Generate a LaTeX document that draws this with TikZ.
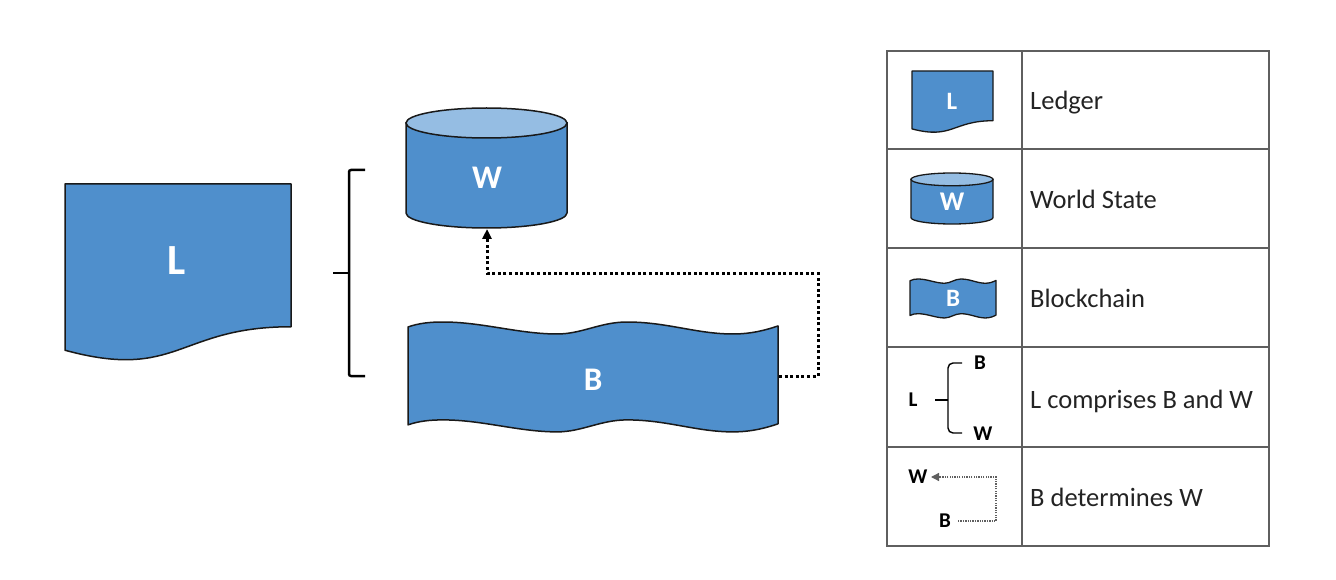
\documentclass[tikz,border=0pt]{standalone}
\usepackage{fontspec}
\setmainfont{Carlito}
\usetikzlibrary{arrows.meta}
\definecolor{shapeblue}{RGB}{79,143,204}
\definecolor{lightblue}{RGB}{149,189,227}
\definecolor{gridgray}{RGB}{95,95,95}
\definecolor{txt}{RGB}{35,35,35}
\definecolor{edge}{RGB}{25,25,25}

\newcommand{\docshape}[1]{%
  \draw[#1] (0,0) -- (1,0) -- (1,0.802) .. controls (0.5,0.802) and (0.5,1.107) .. (0,0.934) -- cycle;}
\newcommand{\cylshape}[1]{%
  \draw[#1, fill=shapeblue] (0,0.125) -- (0,0.875) .. controls (0,0.944) and (0.224,1) .. (0.5,1)
     .. controls (0.776,1) and (1,0.944) .. (1,0.875) -- (1,0.125) -- cycle;
  \draw[#1, fill=lightblue] (0,0.125) .. controls (0,0.056) and (0.224,0) .. (0.5,0)
     .. controls (0.776,0) and (1,0.056) .. (1,0.125)
     .. controls (1,0.194) and (0.776,0.25) .. (0.5,0.25)
     .. controls (0.224,0.25) and (0,0.194) .. (0,0.125) -- cycle;}
\newcommand{\tapeshape}[1]{%
  \draw[#1] (0,0.045) .. controls (0.03,0.01) and (0.06,0) .. (0.095,0)
     .. controls (0.2,0) and (0.3,0.109) .. (0.403,0.109)
     .. controls (0.47,0.109) and (0.52,0) .. (0.592,0)
     .. controls (0.7,0) and (0.78,0.109) .. (0.878,0.109)
     .. controls (0.93,0.109) and (0.97,0.07) .. (1,0.036)
     -- (1,0.926)
     .. controls (0.97,0.96) and (0.93,0.999) .. (0.878,0.999)
     .. controls (0.78,0.999) and (0.7,0.89) .. (0.592,0.89)
     .. controls (0.52,0.89) and (0.47,0.999) .. (0.403,0.999)
     .. controls (0.3,0.999) and (0.2,0.89) .. (0.095,0.89)
     .. controls (0.06,0.89) and (0.03,0.9) .. (0,0.935) -- cycle;}

\begin{document}
\begin{tikzpicture}[x=1pt,y=-1pt,
  bigshape/.style={draw=edge, fill=shapeblue, line width=1.5pt, line join=round},
  smallshape/.style={draw=edge, fill=shapeblue, line width=1.3pt, line join=round},
  lbl/.style={text=white, inner sep=0pt, font=\bfseries},
  leg/.style={text=txt, inner sep=0pt, anchor=base west, font=\fontsize{26.5}{26.5}\selectfont},
  mini/.style={text=black, inner sep=0pt, font=\bfseries\fontsize{21}{21}\selectfont},
  grid/.style={draw=gridgray, line width=2pt},
  bigdot/.style={line width=3pt, dash pattern=on 3pt off 2.6pt},
  smalldot/.style={line width=1.3pt, dash pattern=on 1.3pt off 1.1pt, draw=gridgray}]
\useasboundingbox (0,0) rectangle (1336,580);

% ---- main ledger
\begin{scope}[shift={(65,184)}, xscale=226, yscale=178]
  \docshape{bigshape}
\end{scope}
\node[lbl, font=\bfseries\fontsize{43}{43}\selectfont] (L) at (177,261) {L};

% ---- world state cylinder
\begin{scope}[shift={(406,108)}, xscale=161, yscale=120]
  \cylshape{draw=edge, line width=1.5pt}
\end{scope}
\node[lbl, font=\bfseries\fontsize{33}{33}\selectfont] (W) at (487,178) {W};
\coordinate (Wbot) at (487,229);

% ---- blockchain tape
\begin{scope}[shift={(408,322)}, xscale=370, yscale=110]
  \tapeshape{bigshape}
\end{scope}
\node[lbl, font=\bfseries\fontsize{33}{33}\selectfont] (B) at (593,380) {B};
\coordinate (Bout) at (779,376);

% ---- brace
\draw[line width=2.5pt, rounded corners=2pt] (365,170) -- (349,170) -- (349,376) -- (365,376);
\draw[line width=2.5pt] (333,273) -- (349,273);

% ---- B determines W connector
\draw[bigdot, -{Triangle[length=10pt,width=9pt]}] (Bout) -- ++(39,0) -- ++(0,-103) -| (Wbot);

% ---- legend table
\draw[grid] (887,51) rectangle (1269,546);
\draw[grid] (1022,51) -- (1022,546);
\foreach \yy in {149,248,347,447} \draw[grid] (887,\yy) -- (1269,\yy);

% row 1
\begin{scope}[shift={(912,71)}, xscale=81, yscale=62]
  \docshape{smallshape}
\end{scope}
\node[lbl, font=\bfseries\fontsize{25}{25}\selectfont] (lL) at (952,101) {L};
\node[leg] (t1) at (1030,110) {Ledger};

% row 2
\begin{scope}[shift={(911,173)}, xscale=82, yscale=51]
  \cylshape{draw=edge, line width=1.3pt}
\end{scope}
\node[lbl, font=\bfseries\fontsize{27}{27}\selectfont] (lW) at (952,202) {W};
\node[leg] (t2) at (1030,209) {World State};

% row 3
\begin{scope}[shift={(910,279)}, xscale=86, yscale=39]
  \tapeshape{smallshape}
\end{scope}
\node[lbl, font=\bfseries\fontsize{25}{25}\selectfont] (lB) at (953,298) {B};
\node[leg] (t3) at (1030,307) {Blockchain};

% row 4
\node[mini] (bL) at (913,400) {L};
\node[mini] (bB) at (980,363) {B};
\node[mini] (bW) at (983,434) {W};
\draw[line width=1.4pt, rounded corners=5pt] (962,363) -- (948,363) -- (948,400) -- (948,433) -- (962,433);
\draw[line width=1.4pt] (935,400) -- (948,400);
\node[leg] (t4) at (1030,408) {L comprises B and W};

% row 5
\node[mini] (dW) at (918,477) {W};
\node[mini] (dB) at (945,521) {B};
\coordinate (dstart) at (958,521);
\coordinate (dtip) at (931,477);
\draw[smalldot, -{Triangle[length=8pt,width=8pt]}] (dstart) -| (996,477) -- (dtip);
\node[leg] (t5) at (1030,506) {B determines W};
\end{tikzpicture}
\end{document}
